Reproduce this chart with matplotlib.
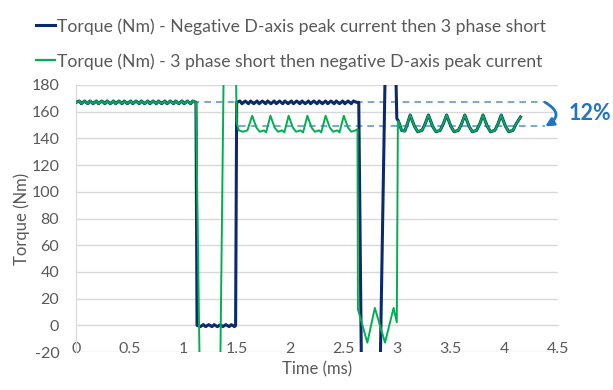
import numpy as np
import matplotlib.pyplot as plt
from matplotlib.lines import Line2D
from matplotlib.patches import FancyArrowPatch

plt.rcParams['font.family'] = ['Lato', 'DejaVu Sans']
plt.rcParams['axes.unicode_minus'] = False

# full-torque ripple before the fault, both tests sit on top of each other here
pre_t = [0.00, 0.03, 0.05, 0.08, 0.11, 0.13, 0.16, 0.19, 0.21, 0.24, 0.27,
         0.29, 0.32, 0.35, 0.37, 0.40, 0.43, 0.45, 0.48, 0.51, 0.53, 0.56,
         0.59, 0.61, 0.64, 0.67, 0.69, 0.72, 0.75, 0.77, 0.80, 0.83, 0.85,
         0.88, 0.91, 0.93, 0.96, 0.99, 1.01, 1.04, 1.07, 1.09, 1.12]
pre_v = [167, 168, 166, 168, 166, 168, 166, 168, 166, 168, 166,
         168, 166, 168, 166, 168, 166, 168, 166, 168, 166, 168,
         166, 168, 166, 168, 166, 168, 166, 168, 166, 168, 166,
         168, 166, 168, 166, 168, 166, 168, 166, 168, 167]

# navy trace: negative D-axis peak current then 3 phase short
blue_dip_t = [1.13, 1.16, 1.19, 1.21, 1.24, 1.27, 1.29, 1.32, 1.35, 1.37,
              1.40, 1.43, 1.45, 1.48, 1.49]
blue_dip_v = [0, -1, 0.5, -1, 0.5, -1, 0.5, -1, 0.5, -1, 0.5, -1, 0.5, -1, 0]
blue_mid_t = [1.50, 1.53, 1.55, 1.58, 1.61, 1.63, 1.66, 1.69, 1.71, 1.74,
              1.77, 1.79, 1.82, 1.85, 1.87, 1.90, 1.93, 1.95, 1.98, 2.01,
              2.03, 2.06, 2.09, 2.11, 2.14, 2.17, 2.19, 2.22, 2.25, 2.27,
              2.30, 2.33, 2.35, 2.38, 2.41, 2.43, 2.46, 2.49, 2.51, 2.54,
              2.57, 2.59, 2.62]
blue_mid_v = [167, 168, 166, 168, 166, 168, 166, 168, 166, 168,
              166, 168, 166, 168, 166, 168, 166, 168, 166, 168,
              166, 168, 166, 168, 166, 168, 166, 168, 166, 168,
              166, 168, 166, 168, 166, 168, 166, 168, 166, 168,
              166, 168, 167]
blue_spike_t = [2.64, 2.73, 2.93, 2.995]
blue_spike_v = [167, -560, 400, 155]

# green trace: 3 phase short then negative D-axis peak current
green_spike_t = [1.26, 1.43]
green_spike_v = [-640, 550]
green_mid_t = [1.50, 1.52, 1.56, 1.60, 1.645, 1.685, 1.715, 1.755, 1.775,
               1.815, 1.855, 1.885, 1.925, 1.945, 1.985, 2.025, 2.055, 2.095,
               2.12, 2.16, 2.20, 2.23, 2.27, 2.29, 2.33, 2.37, 2.40, 2.44,
               2.46, 2.50, 2.54, 2.57, 2.61, 2.628]
green_mid_v = [152, 146, 145, 146, 157, 148, 145, 146, 144.5,
               157, 148, 145, 146, 144.5, 157, 148, 145, 146,
               144.5, 157, 148, 145, 146, 144.5, 157, 148, 145, 146,
               144.5, 157, 148, 145, 146, 147]
green_osc_t = [2.632, 2.72, 2.79, 2.885, 2.965, 2.995, 3.005]
green_osc_v = [12, -13, 13, -13, 13, 2.3, 152]

# common ripple once both sequences have settled
post_t = [3.01, 3.04, 3.07, 3.09, 3.12, 3.16, 3.19, 3.23, 3.26, 3.29, 3.33,
          3.36, 3.40, 3.43, 3.46, 3.50, 3.53, 3.57, 3.60, 3.63, 3.67, 3.70,
          3.74, 3.77, 3.80, 3.84, 3.87, 3.91, 3.94, 3.97, 4.01, 4.04, 4.08,
          4.11, 4.15]
post_v = [153, 146, 145.5, 150, 157.5, 149, 145, 146, 151, 157.5, 149,
          145, 146, 151, 157.5, 149, 145, 146, 151, 157.5, 149, 145,
          146, 151, 157.5, 149, 145, 146, 151, 157.5, 149, 145, 146,
          151, 156]

ref_levels = [167, 149]
ref_start = [0.0, 1.52]
ref_end = 4.38
drop_label = '12%'

labels = ['Torque (Nm) - Negative D-axis peak current then 3 phase short',
          'Torque (Nm) - 3 phase short then negative D-axis peak current']
x_ticks = [0, 0.5, 1, 1.5, 2, 2.5, 3, 3.5, 4, 4.5]
x_ticklabels = ['0', '0.5', '1', '1.5', '2', '2.5', '3', '3.5', '4', '4.5']
y_ticks = [-20, 0, 20, 40, 60, 80, 100, 120, 140, 160, 180]

navy = '#0b2a6e'
green = '#00b050'
ref_col = '#5b9bd5'
arrow_col = '#1f74c4'
txt_col = '#595959'
grid_col = '#d9d9d9'

blue_t = pre_t + blue_dip_t + blue_mid_t + blue_spike_t + post_t
blue_v = pre_v + blue_dip_v + blue_mid_v + blue_spike_v + post_v
green_t = pre_t + green_spike_t + green_mid_t + green_osc_t + post_t
green_v = pre_v + green_spike_v + green_mid_v + green_osc_v + post_v

fig = plt.figure(figsize=(6.13, 3.90), dpi=100)
ax = fig.add_axes([76 / 613, 1 - 352 / 390, 482 / 613, 267 / 390])

for lvl, x0 in zip(ref_levels, ref_start):
    ax.plot([x0, ref_end], [lvl, lvl], color=ref_col, lw=1.2,
            ls=(0, (4, 3)), zorder=2)

ax.plot(blue_t, blue_v, color=navy, lw=2.2, zorder=3, solid_joinstyle='round')
ax.plot(green_t, green_v, color=green, lw=1.4, zorder=4, solid_joinstyle='round')

ax.set_xlim(0, 4.5)
ax.set_ylim(-20, 180)
ax.set_xticks(x_ticks)
ax.set_xticklabels(x_ticklabels)
ax.set_yticks(y_ticks)

ax.grid(axis='y', color=grid_col, lw=1.0, zorder=0)
ax.set_axisbelow(True)
for s in ['top', 'right']:
    ax.spines[s].set_visible(False)
ax.spines['bottom'].set_position(('data', 0))
ax.spines['bottom'].set_color(grid_col)
ax.spines['left'].set_color(grid_col)
ax.tick_params(axis='both', length=0, labelsize=11.5, colors=txt_col)
ax.tick_params(axis='x', pad=12)
ax.tick_params(axis='y', pad=12)

ax.set_xlabel('Time (ms)', fontsize=12, color=txt_col, labelpad=0)
ax.xaxis.set_label_coords(0.5, -0.035)
ax.set_ylabel('Torque (Nm)', fontsize=12, color=txt_col)
ax.yaxis.set_label_coords(-0.095, 0.5)

# curved arrow marking the drop between the two reference levels
arr = FancyArrowPatch((ref_end, ref_levels[0]), (ref_end, ref_levels[1]),
                      connectionstyle='arc3,rad=-0.85', arrowstyle='-|>',
                      mutation_scale=12, color=arrow_col, lw=2.0, clip_on=False,
                      shrinkA=0, shrinkB=0, zorder=5)
ax.add_patch(arr)
ax.text(4.6, 158.5, drop_label, color=arrow_col, fontsize=15.5, fontweight='bold',
        va='center', ha='left', clip_on=False)

handles = [Line2D([], [], color=navy, lw=2.2), Line2D([], [], color=green, lw=1.6)]
fig.legend(handles, labels, loc='upper left', bbox_to_anchor=(36 / 613, 1 - 18 / 390),
           frameon=False, fontsize=12.7, handlelength=1.1, handletextpad=0.1,
           labelspacing=1.05, borderpad=0, borderaxespad=0, labelcolor=txt_col)

fig.savefig('out.png', dpi=100)
